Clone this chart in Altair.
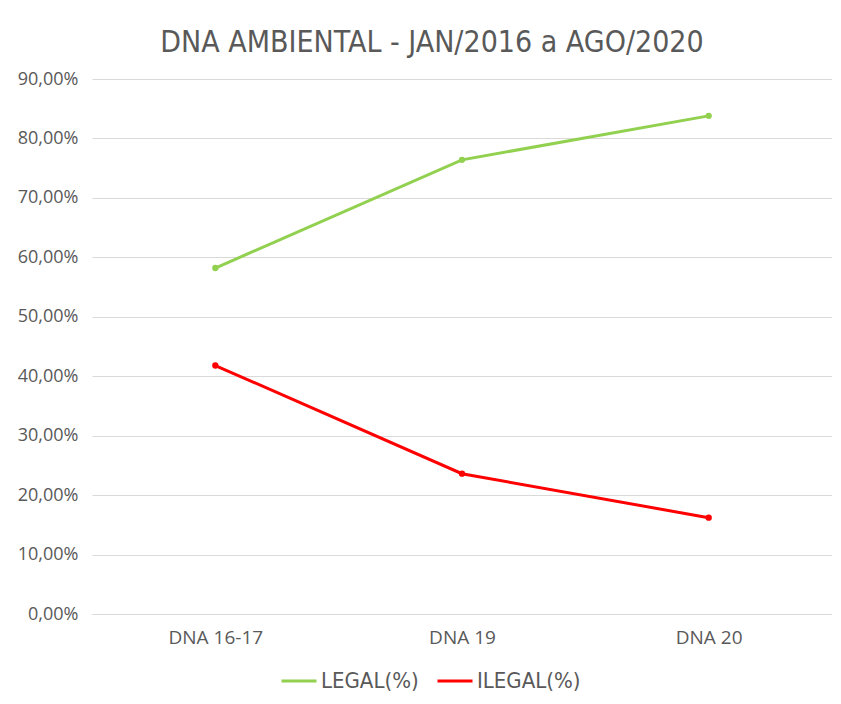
import altair as alt
import pandas as pd

categories = ["DNA 16-17", "DNA 19", "DNA 20"]
legal = [58.2, 76.4, 83.8]
ilegal = [41.8, 23.6, 16.2]
series_names = ["LEGAL(%)", "ILEGAL(%)"]
series_colors = ["#92D050", "#FF0000"]
y_ticks = [0, 10, 20, 30, 40, 50, 60, 70, 80, 90]

rows = []
for name, vals in zip(series_names, [legal, ilegal]):
    for c, v in zip(categories, vals):
        rows.append({"cat": c, "serie": name, "valor": v})
df = pd.DataFrame(rows)

FONT = "DejaVu Sans Condensed, sans-serif"
AXFONT = "Open Sans, sans-serif"
GREY = "#595959"

chart = alt.Chart(df).mark_line(
    strokeWidth=3,
    point=alt.OverlayMarkDef(size=40, filled=True),
).encode(
    x=alt.X("cat:N", sort=categories, title=None,
            scale=alt.Scale(type="point", padding=0.5),
            axis=alt.Axis(labelAngle=0, labelFontSize=19, labelColor=GREY, labelFont=AXFONT,
                          ticks=False, domainColor="#D9D9D9", labelPadding=14, grid=False)),
    y=alt.Y("valor:Q", title=None,
            scale=alt.Scale(domain=[0, 90], nice=False),
            axis=alt.Axis(values=y_ticks, labelFontSize=18, labelColor=GREY, labelFont=AXFONT,
                          labelExpr="replace(format(datum.value, '.2f'), '.', ',') + '%'",
                          ticks=False, domain=False, gridColor="#D9D9D9", labelPadding=14)),
    color=alt.Color("serie:N", sort=series_names,
                    scale=alt.Scale(domain=series_names, range=series_colors),
                    legend=alt.Legend(title=None, orient="none", legendX=188, legendY=583,
                                      direction="horizontal", symbolType="stroke",
                                      symbolStrokeWidth=3, symbolSize=1225,
                                      labelFontSize=22, labelColor=GREY, labelFont=FONT,
                                      columnPadding=12, labelOffset=3)),
).properties(
    width=740,
    height=535,
    title=alt.TitleParams("DNA AMBIENTAL - JAN/2016 a AGO/2020", fontSize=30, color=GREY,
                          font=FONT, fontWeight="normal", offset=12, dx=-30),
    autosize=alt.AutoSizeParams(type="none"),
    padding={"left": 84, "top": 71, "right": 0, "bottom": 82},
).configure_view(stroke=None)

chart.save("out.html", embed_options={"renderer": "svg", "actions": False})
